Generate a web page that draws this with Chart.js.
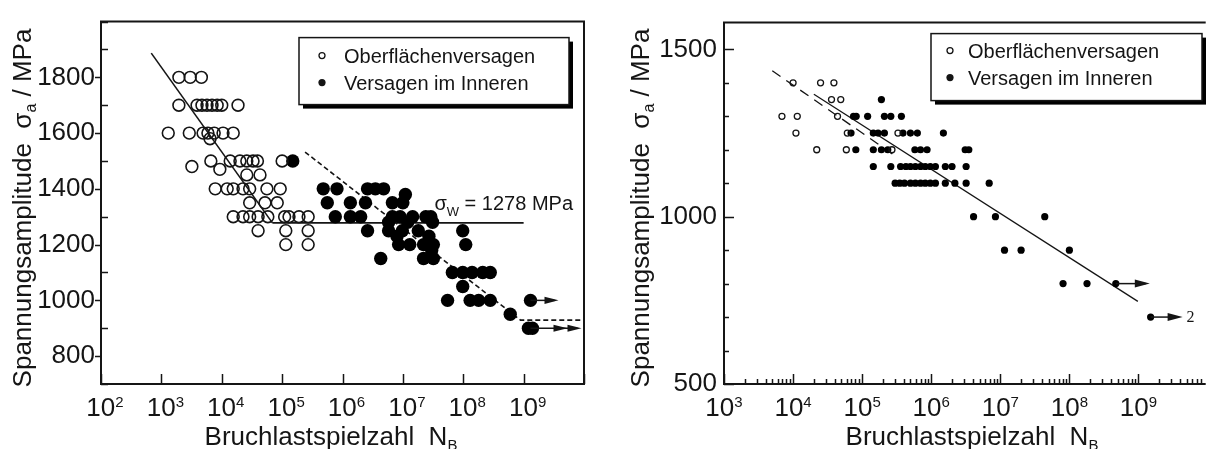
<!DOCTYPE html>
<html>
<head>
<meta charset="utf-8">
<title>Wöhlerdiagramme</title>
<style>
    body { margin: 0; background: #fff; }
    .panel { position: absolute; top: 0; }
</style>
</head>
<body>
<div class="panel" style="left:0"><canvas id="leftChart" width="600" height="449"></canvas></div>
<div class="panel" style="left:600px"><canvas id="rightChart" width="609" height="449"></canvas></div>

<script src="https://cdn.jsdelivr.net/npm/chart.js"></script>
<script>
const FONT = '"Liberation Sans", Arial, Helvetica, sans-serif';
const INK = '#151515';

// ---- left panel: Bruchlastspielzahl N and Spannungsamplitude (MPa) ----
const leftOpenN = [1.95e3, 3.0e3, 4.6e3,
    1.95e3, 3.9e3, 4.7e3, 5.7e3, 6.9e3, 8.4e3, 1.0e4, 1.86e4,
    1.3e3, 2.9e3, 4.9e3, 5.9e3, 7.5e3, 1.05e4, 1.55e4, 6.4e3,
    3.2e3, 6.6e3, 1.38e4, 2.0e4, 2.6e4, 3.3e4, 3.9e4, 1.0e5, 9.3e3,
    2.6e4, 4.3e4,
    7.8e3, 1.23e4, 1.55e4, 2.25e4, 2.9e4, 5.6e4, 9.3e4,
    2.9e4, 5.2e4, 8.3e4,
    1.55e4, 2.25e4, 2.9e4, 4.0e4, 5.8e4, 1.1e5, 1.3e5, 1.9e5, 2.7e5,
    4.0e4, 1.15e5, 2.7e5,
    1.15e5, 2.7e5];
const leftOpenS = [1800, 1800, 1800,
    1700, 1700, 1700, 1700, 1700, 1700, 1700, 1700,
    1600, 1600, 1600, 1600, 1600, 1600, 1600, 1580,
    1480, 1500, 1500, 1500, 1500, 1500, 1500, 1500, 1470,
    1450, 1450,
    1400, 1400, 1400, 1400, 1400, 1400, 1400,
    1350, 1350, 1350,
    1300, 1300, 1300, 1300, 1300, 1300, 1300, 1300, 1300,
    1250, 1250, 1250,
    1200, 1200];

const leftFilledN = [1.5e5,
    4.8e5, 8.1e5, 2.6e6, 3.5e6, 4.8e6,
    1.1e7,
    5.6e5, 1.35e6, 2.4e6, 6.7e6, 1.0e7,
    7.6e5, 1.35e6, 2.0e6, 6.7e6, 9.0e6, 1.45e7, 2.4e7, 2.9e7,
    5.8e6, 1.2e7, 3.1e7,
    2.6e6, 5.8e6, 9.8e6, 1.8e7, 9.8e7,
    8.0e6, 2.7e7,
    8.5e6, 1.3e7, 2.2e7, 3.2e7, 1.1e8,
    3.0e7,
    4.3e6, 2.2e7, 3.2e7,
    6.6e7, 9.8e7, 1.4e8, 2.1e8, 2.8e8,
    9.8e7,
    5.5e7, 1.3e8, 1.8e8, 2.8e8, 1.3e9,
    6.0e8,
    1.2e9, 1.4e9];
const leftFilledS = [1500,
    1400, 1400, 1400, 1400, 1400,
    1380,
    1350, 1350, 1350, 1350, 1350,
    1300, 1300, 1300, 1300, 1300, 1300, 1300, 1300,
    1280, 1280, 1280,
    1250, 1250, 1250, 1250, 1250,
    1230, 1230,
    1200, 1200, 1200, 1200, 1200,
    1180,
    1150, 1150, 1150,
    1100, 1100, 1100, 1100, 1100,
    1050,
    1000, 1000, 1000, 1000, 1000,
    950,
    900, 900];

const leftBasquinN = [6.8e2, 6.9e4];
const leftBasquinS = [1887, 1278];
const leftEnduranceN = [6.9e4, 1.0e9];
const leftEnduranceS = [1278, 1278];
const leftDashedN = [2.4e5, 8.9e8, 1.0e10];
const leftDashedS = [1532, 929, 929];
const leftRunoutN = [1.3e9, 1.3e9];
const leftRunoutS = [1000, 900];
const leftYLabels = [800, 1000, 1200, 1400, 1600, 1800];
const leftXExponents = [2, 3, 4, 5, 6, 7, 8, 9];

// ---- right panel ----
const rightOpenN = [1.0e4, 2.5e4, 3.9e4, 3.6e4, 4.9e4, 6.9e3, 1.15e4, 4.4e4,
    1.1e4, 6.1e4, 3.3e5, 2.2e4, 5.9e4, 2.7e5];
const rightOpenS = [1400, 1400, 1400, 1350, 1350, 1300, 1300, 1300,
    1250, 1250, 1250, 1200, 1200, 1200];

const rightFilledN = [1.9e5,
    7.5e4, 8.2e4, 1.2e5, 2.1e5, 2.6e5, 3.7e5,
    6.9e4, 1.45e5, 1.7e5, 2.1e5, 3.9e5, 5.0e5, 6.3e5, 1.5e6,
    8.1e4, 1.45e5, 1.9e5, 2.35e5, 5.8e5, 7.0e5, 8.7e5, 3.1e6, 3.5e6,
    1.45e5, 2.6e5, 3.6e5, 4.3e5, 5.0e5, 5.9e5, 7.0e5, 8.2e5, 9.7e5, 1.15e6, 1.6e6, 2.0e6, 3.2e6,
    3.0e5, 3.5e5, 4.1e5, 5.0e5, 5.9e5, 7.0e5, 8.2e5, 9.7e5, 1.15e6, 1.6e6, 2.2e6, 3.2e6, 6.9e6,
    4.1e6, 8.5e6, 4.4e7,
    1.15e7, 2.0e7, 1.0e8,
    8.1e7, 1.8e8, 4.7e8,
    1.5e9];
const rightFilledS = [1350,
    1300, 1300, 1300, 1300, 1300, 1300,
    1250, 1250, 1250, 1250, 1250, 1250, 1250, 1250,
    1200, 1200, 1200, 1200, 1200, 1200, 1200, 1200, 1200,
    1150, 1150, 1150, 1150, 1150, 1150, 1150, 1150, 1150, 1150, 1150, 1150, 1150,
    1100, 1100, 1100, 1100, 1100, 1100, 1100, 1100, 1100, 1100, 1100, 1100, 1100,
    1000, 1000, 1000,
    900, 900, 900,
    800, 800, 800,
    700];

const rightFitN = [2.0e4, 9.8e8];
const rightFitS = [1366, 747];
const rightDashedN = [5.0e3, 3.2e5];
const rightDashedS = [1436, 1178];
const rightRunoutN = [4.7e8, 1.5e9];
const rightRunoutS = [800, 700];
const rightRunoutText = ['', '2'];
const rightYLabels = [500, 1000, 1500];
const rightXExponents = [3, 4, 5, 6, 7, 8, 9];

const legendLabels = ['Oberflächenversagen', 'Versagen im Inneren'];

function pts(ns, ss) {
    return ns.map((n, i) => ({ x: n, y: ss[i] }));
}

function richText(ctx, parts, x, y, align) {
    let w = 0;
    parts.forEach(p => { ctx.font = p[1] + 'px ' + FONT; w += ctx.measureText(p[0]).width; });
    let cx = align === 'center' ? x - w / 2 : (align === 'right' ? x - w : x);
    ctx.textAlign = 'left';
    ctx.textBaseline = 'alphabetic';
    parts.forEach(p => {
        ctx.font = p[1] + 'px ' + FONT;
        ctx.fillText(p[0], cx, y + (p[2] || 0));
        cx += ctx.measureText(p[0]).width;
    });
}

function arrowHead(ctx, tip, y, len, half) {
    ctx.beginPath();
    ctx.moveTo(tip, y);
    ctx.lineTo(tip - len, y - half);
    ctx.lineTo(tip - len, y + half);
    ctx.closePath();
    ctx.fill();
}

function panelDecor(p) {
    return {
        id: 'panelDecor',
        afterDatasetsDraw(chart) {
            const ctx = chart.ctx, a = chart.chartArea;
            const xs = chart.scales.x, ys = chart.scales.y;
            ctx.save();
            ctx.strokeStyle = INK;
            ctx.fillStyle = INK;

            // frame
            ctx.lineWidth = 2;
            ctx.beginPath();
            if (p.closedFrame) {
                ctx.rect(a.left, a.top, a.right - a.left, a.bottom - a.top);
            } else {
                ctx.moveTo(a.right + 2, a.top);
                ctx.lineTo(a.left, a.top);
                ctx.lineTo(a.left, a.bottom);
                ctx.lineTo(a.right + 2, a.bottom);
            }
            ctx.stroke();

            // y ticks every 100 MPa
            ctx.lineWidth = 1.5;
            ctx.beginPath();
            for (let v = Math.ceil(ys.min / 100) * 100; v <= ys.max; v += 100) {
                const y = Math.round(ys.getPixelForValue(v)) + 0.5;
                const t = p.yLabels.includes(v) ? p.yMajor : p.yMinor;
                ctx.moveTo(a.left + t[0], y);
                ctx.lineTo(a.left + t[1], y);
            }
            // x ticks at decades (+ minor for log)
            const e0 = Math.ceil(Math.log10(xs.min)), e1 = Math.floor(Math.log10(xs.max));
            for (let e = e0 - 1; e <= e1; e++) {
                const dec = Math.pow(10, e);
                if (dec >= xs.min) {
                    const x = Math.round(xs.getPixelForValue(dec)) + 0.5;
                    ctx.moveTo(x, a.bottom);
                    ctx.lineTo(x, a.bottom - p.xMajor);
                }
                if (p.xMinor) {
                    for (let k = 2; k <= 9; k++) {
                        const v = k * dec;
                        if (v < xs.min || v > xs.max) continue;
                        const x = Math.round(xs.getPixelForValue(v)) + 0.5;
                        ctx.moveTo(x, a.bottom);
                        ctx.lineTo(x, a.bottom - p.xMinor);
                    }
                }
            }
            ctx.stroke();

            // x tick labels 10^n
            p.xExponents.forEach(e => {
                const x = xs.getPixelForValue(Math.pow(10, e)) + p.xLabelShift;
                richText(ctx, [['10', 26], [String(e), 15, -9]], x, 416, 'center');
            });

            // axis titles
            richText(ctx, [['Bruchlastspielzahl  N', 26], ['B', 15, 5]], p.xTitleX, 445, 'center');
            ctx.save();
            ctx.translate(p.yTitleX, 208);
            ctx.rotate(-Math.PI / 2);
            richText(ctx, [['Spannungsamplitude  σ', 26], ['a', 16, 5], [' / MPa', 26]], 0, 0, 'center');
            ctx.restore();

            // run-out arrows
            ctx.lineWidth = 1.5;
            p.runN.forEach((n, i) => {
                const x0 = xs.getPixelForValue(n), y = ys.getPixelForValue(p.runS[i]);
                const tip = x0 + p.arrowLen[i];
                ctx.beginPath();
                ctx.moveTo(x0, y);
                ctx.lineTo(tip - 4, y);
                ctx.stroke();
                arrowHead(ctx, tip, y, p.headLen, p.headHalf);
                if (p.heads[i] > 1) arrowHead(ctx, tip - p.headLen, y, p.headLen, p.headHalf);
                if (p.runText && p.runText[i]) {
                    ctx.font = '16px "Liberation Serif", "Times New Roman", serif';
                    ctx.textAlign = 'left';
                    ctx.textBaseline = 'middle';
                    ctx.fillText(p.runText[i], tip + 4, y + 1);
                }
            });

            // endurance annotation
            if (p.sigmaW) {
                const y = ys.getPixelForValue(p.sigmaW) - 13;
                richText(ctx, [['σ', 20], ['W', 13, 6], [' = ' + p.sigmaW + ' MPa', 20]], a.right - 11, y, 'right');
            }

            // legend box with drop shadow
            const L = p.legend;
            const bx = a.left + L.dx, by = a.top + L.dy;
            ctx.fillStyle = '#000';
            ctx.fillRect(bx + 4, by + 4, L.w, L.h);
            ctx.fillStyle = '#fff';
            ctx.fillRect(bx, by, L.w, L.h);
            ctx.lineWidth = 1.5;
            ctx.strokeStyle = INK;
            ctx.strokeRect(bx, by, L.w, L.h);
            ctx.fillStyle = INK;
            legendLabels.forEach((label, i) => {
                const ty = by + L.base[i];
                ctx.beginPath();
                ctx.arc(bx + L.mx, ty - 7, i === 0 ? 3 : 3.6, 0, Math.PI * 2);
                if (i === 0) { ctx.lineWidth = 1.3; ctx.stroke(); } else { ctx.fill(); }
                ctx.font = '20px ' + FONT;
                ctx.textAlign = 'left';
                ctx.textBaseline = 'alphabetic';
                ctx.fillText(label, bx + L.tx, ty);
            });
            ctx.restore();
        }
    };
}

function makeChart(id, ds, xr, yr, yLabels, yWidth, pad, yPad, decor) {
    return new Chart(document.getElementById(id), {
        type: 'scatter',
        data: { datasets: ds },
        options: {
            responsive: false,
            animation: false,
            devicePixelRatio: 1,
            events: [],
            layout: { padding: pad },
            plugins: { legend: { display: false }, tooltip: { enabled: false } },
            scales: {
                x: {
                    type: 'logarithmic', min: xr[0], max: xr[1],
                    grid: { display: false, drawTicks: false },
                    border: { display: false },
                    ticks: { display: false },
                    afterFit: s => { s.height = 65; }
                },
                y: {
                    min: yr[0], max: yr[1],
                    grid: { display: false, drawTicks: false },
                    border: { display: false },
                    afterBuildTicks: s => { s.ticks = yLabels.map(v => ({ value: v })); },
                    afterFit: s => { s.width = yWidth; },
                    ticks: {
                        autoSkip: false,
                        padding: yPad,
                        color: INK,
                        font: { family: FONT, size: 26 },
                        callback: v => String(v)
                    }
                }
            }
        },
        plugins: [decor]
    });
}

function lineDs(ns, ss, width, dash) {
    return {
        type: 'line', data: pts(ns, ss), borderColor: INK, borderWidth: width,
        borderDash: dash, pointRadius: 0, fill: false, tension: 0
    };
}

makeChart('leftChart', [
    { label: legendLabels[0], data: pts(leftOpenN, leftOpenS), pointRadius: 5.9, borderWidth: 1.6,
      borderColor: INK, backgroundColor: 'rgba(255,255,255,0)' },
    { label: legendLabels[1], data: pts(leftFilledN, leftFilledS), pointRadius: 6.7, borderWidth: 0,
      backgroundColor: '#000' },
    lineDs(leftBasquinN, leftBasquinS, 1.6, []),
    lineDs(leftEnduranceN, leftEnduranceS, 1.6, []),
    lineDs(leftDashedN, leftDashedS, 1.6, [5, 3])
], [1e2, 1e10], [700, 2000], leftYLabels, 101, { left: 0, top: 15, right: 16, bottom: 0 }, 6,
panelDecor({
    closedFrame: true, yLabels: leftYLabels, yMajor: [-6, 0], yMinor: [0, 7],
    xMajor: 10, xMinor: 0, xExponents: leftXExponents, xLabelShift: 4,
    xTitleX: 331, yTitleX: 31,
    runN: leftRunoutN, runS: leftRunoutS, arrowLen: [28, 51], heads: [1, 2], headLen: 14, headHalf: 3.6,
    sigmaW: 1278,
    legend: { dx: 198, dy: 16, w: 270, h: 67, mx: 23, tx: 45, base: [25, 52] }
}));

makeChart('rightChart', [
    { label: legendLabels[0], data: pts(rightOpenN, rightOpenS), pointRadius: 3.0, borderWidth: 1.3,
      borderColor: INK, backgroundColor: 'rgba(255,255,255,0)' },
    { label: legendLabels[1], data: pts(rightFilledN, rightFilledS), pointRadius: 3.6, borderWidth: 0,
      backgroundColor: '#000' },
    lineDs(rightFitN, rightFitS, 1.3, []),
    lineDs(rightDashedN, rightDashedS, 1.3, [10, 7])
], [1e3, 8.8e9], [500, 1580], rightYLabels, 124, { left: 0, top: 15, right: 0, bottom: 0 }, 7,
panelDecor({
    closedFrame: false, yLabels: rightYLabels, yMajor: [0, 10], yMinor: [0, 5],
    xMajor: 10, xMinor: 5, xExponents: rightXExponents, xLabelShift: 0,
    xTitleX: 372, yTitleX: 49,
    runN: rightRunoutN, runS: rightRunoutS, arrowLen: [34, 32], heads: [1, 1], headLen: 15, headHalf: 4,
    runText: rightRunoutText,
    sigmaW: null,
    legend: { dx: 207, dy: 11, w: 271, h: 67, mx: 19, tx: 37, base: [24, 51] }
}));
</script>
</body>
</html>
